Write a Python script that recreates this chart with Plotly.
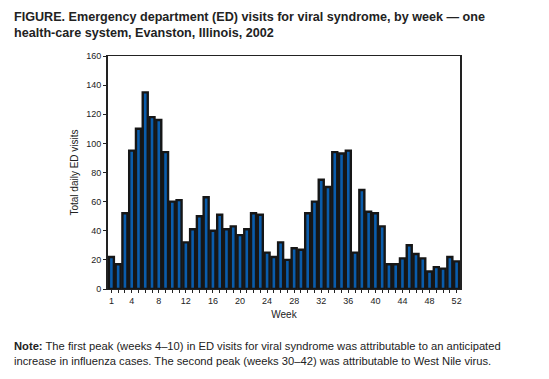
import plotly.graph_objects as go

weeks = list(range(1, 53))
visits = [22, 17, 52, 95, 110, 135, 118, 116, 94, 60,
          61, 32, 41, 50, 63, 40, 51, 41, 43, 37,
          41, 52, 51, 25, 22, 32, 20, 28, 27, 52,
          60, 75, 70, 94, 93, 95, 25, 68, 53, 52,
          43, 17, 17, 21, 30, 24, 21, 12, 15, 14,
          22, 19]
x_labels = {1: "1", 4: "4", 8: "8", 12: "12", 16: "16", 20: "20", 24: "24",
            28: "28", 32: "32", 36: "36", 40: "40", 44: "44", 48: "48", 52: "52"}
y_ticks = [0, 20, 40, 60, 80, 100, 120, 140, 160]

FONT = "Liberation Sans, Arial, sans-serif"

# plot area geometry (figure px); page adds an 8px body margin
L, R, T, B = 100, 97, 48, 98
PW, PH = 549 - L - R, 379 - T - B

fig = go.Figure()
fig.add_trace(go.Bar(
    x=weeks, y=visits, width=0.74,
    marker=dict(color="#0a5cab", line=dict(color="#161616", width=2.4)),
    hoverinfo="x+y",
))

fig.update_layout(
    width=549, height=379,
    margin=dict(l=L, r=R, t=T, b=B, autoexpand=False),
    paper_bgcolor="white", plot_bgcolor="white",
    font=dict(family=FONT, color="#222", size=9),
    showlegend=False,
)
fig.update_xaxes(
    range=[0.5, 52.5],
    tickmode="array", tickvals=weeks,
    ticktext=[x_labels.get(w, "") for w in weeks],
    ticks="outside", ticklen=3, tickwidth=1, tickcolor="#222",
    showline=True, linecolor="#222", linewidth=1, mirror=True,
    showgrid=False, zeroline=False,
    tickfont=dict(size=9, family=FONT),
    title=dict(text="Week", font=dict(size=10, family=FONT), standoff=6),
)
fig.update_yaxes(
    range=[0, 160],
    tickmode="array", tickvals=y_ticks,
    ticks="outside", ticklen=3, tickwidth=1, tickcolor="#222",
    showline=True, linecolor="#222", linewidth=2, mirror=True,
    showgrid=False, zeroline=False,
    tickfont=dict(size=9, family=FONT),
    title=dict(text="Total daily ED visits", font=dict(size=10, family=FONT), standoff=6),
)

fig.add_annotation(
    xref="paper", yref="paper", x=(4 - L) / PW, y=1 + T / PH, xanchor="left", yanchor="top",
    text="<b>FIGURE. Emergency department (ED) visits for viral syndrome, by week — one<br>"
         "health-care system, Evanston, Illinois, 2002</b>",
    showarrow=False, align="left", font=dict(size=12.6, family=FONT, color="#222"),
)
fig.add_annotation(
    xref="paper", yref="paper", x=(4 - L) / PW, y=-49 / PH, xanchor="left", yanchor="top",
    text="<b>Note:</b> The first peak (weeks 4–10) in ED visits for viral syndrome was attributable to an anticipated<br>"
         "increase in influenza cases. The second peak (weeks 30–42) was attributable to West Nile virus.",
    showarrow=False, align="left", font=dict(size=11.2, family=FONT, color="#222"),
)

fig.write_html("out.html")
